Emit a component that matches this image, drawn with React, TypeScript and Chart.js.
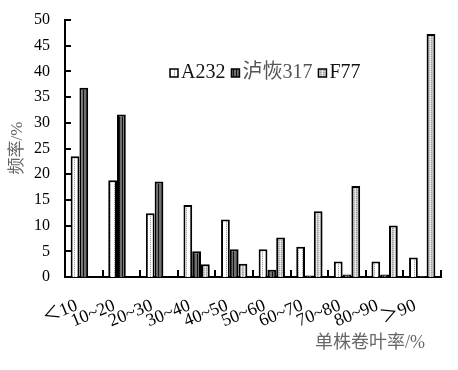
import React, { useEffect, useRef } from 'react';
import { Chart, registerables } from 'chart.js';

Chart.register(...registerables);

const categories = ['＜10', '10~20', '20~30', '30~40', '40~50', '50~60', '60~70', '70~80', '80~90', '＞90'];
const seriesNames = ['A232', '泸恢317', 'F77'];
const a232 = [23.5, 18.8, 12.4, 14.0, 11.2, 5.4, 5.9, 3.0, 3.0, 3.8];
const luhui317 = [36.8, 31.6, 18.6, 5.0, 5.4, 1.4, 0.3, 0.5, 0.5, 0.2];
const f77 = [0, 0, 0, 2.5, 2.6, 7.7, 12.8, 17.7, 10.0, 47.3];
const yMin = 0;
const yMax = 50;
const yStep = 5;
const xTitle = '单株卷叶率/%';
const yTitle = '频率/%';

const FONT = "'Liberation Serif', 'Noto Sans CJK SC', serif";

function makePattern(cols: string[][]): CanvasPattern | string {
  const h = cols[0].length;
  const w = cols.length;
  const c = document.createElement('canvas');
  c.width = w;
  c.height = h;
  const ctx = c.getContext('2d')!;
  for (let x = 0; x < w; x++) {
    for (let y = 0; y < h; y++) {
      ctx.fillStyle = cols[x][y];
      ctx.fillRect(x, y, 1, 1);
    }
  }
  const p = ctx.createPattern(c, 'repeat');
  return p || cols[0][0];
}

export default function App() {
  const ref = useRef<HTMLCanvasElement>(null);

  useEffect(() => {
    const canvas = ref.current!;
    const patA = makePattern([
      ['#ffffff', '#ffffff'],
      ['#ffffff', '#ffffff'],
      ['#a8a8a8', '#e4e4e4'],
      ['#ffffff', '#ffffff'],
    ]);
    const patL = makePattern([
      ['#707070'],
      ['#707070'],
      ['#101010'],
    ]);
    const patF = makePattern([
      ['#b4b4b4', '#d8d8d8'],
      ['#e6e6e6', '#e6e6e6'],
      ['#a0a0a0', '#c4c4c4'],
    ]);
    const pats = [patA, patL, patF];
    const values = [a232, luhui317, f77];

    const decor = {
      id: 'decor',
      afterDatasetsDraw(chart: any) {
        const ctx = chart.ctx;
        const x = chart.scales.x;
        const y = chart.scales.y;
        const area = chart.chartArea;
        ctx.save();
        ctx.strokeStyle = '#000';
        ctx.lineWidth = 2;
        for (let v = yMin + yStep; v <= yMax; v += yStep) {
          const py = Math.round(y.getPixelForValue(v));
          ctx.beginPath();
          ctx.moveTo(area.left, py);
          ctx.lineTo(area.left + 6, py);
          ctx.stroke();
        }
        const half = (x.getPixelForValue(1) - x.getPixelForValue(0)) / 2;
        for (let i = 0; i < categories.length; i++) {
          const px = Math.round(x.getPixelForValue(i) + half);
          ctx.beginPath();
          ctx.moveTo(px, area.bottom);
          ctx.lineTo(px, area.bottom - 7);
          ctx.stroke();
        }
        ctx.restore();
      },
      afterDraw(chart: any) {
        const ctx = chart.ctx;
        ctx.save();
        ctx.font = `20px ${FONT}`;
        ctx.textBaseline = 'middle';
        ctx.textAlign = 'left';
        let lx = 170;
        const ly = 73;
        const colors = ['#111', '#555', '#111'];
        seriesNames.forEach((name, i) => {
          ctx.fillStyle = pats[i] as any;
          ctx.fillRect(lx, ly - 4, 8, 8);
          ctx.strokeStyle = '#000';
          ctx.lineWidth = 1.5;
          ctx.strokeRect(lx, ly - 4, 8, 8);
          ctx.fillStyle = colors[i];
          ctx.fillText(name, lx + 11, ly);
          lx += 11 + ctx.measureText(name).width + 6;
        });
        ctx.font = `18px ${FONT}`;
        ctx.fillStyle = '#666';
        ctx.textAlign = 'right';
        ctx.textBaseline = 'middle';
        ctx.fillText(xTitle, 425, 343);
        ctx.translate(18, 148);
        ctx.rotate(-Math.PI / 2);
        ctx.textAlign = 'center';
        ctx.font = `17px ${FONT}`;
        ctx.fillText(yTitle, 0, 0);
        ctx.restore();
      },
    };

    const chart = new Chart(canvas, {
      type: 'bar',
      data: {
        labels: categories,
        datasets: seriesNames.map((name, i) => ({
          label: name,
          data: values[i],
          backgroundColor: pats[i] as any,
          borderColor: '#000',
          borderWidth: 2,
          borderSkipped: 'start',
          categoryPercentage: 0.7,
          barPercentage: 1,
        })),
      },
      options: {
        animation: false,
        responsive: false,
        maintainAspectRatio: false,
        layout: { padding: { top: 20, right: 17, left: 0, bottom: 0 } },
        plugins: {
          legend: { display: false },
          tooltip: { enabled: false },
        },
        scales: {
          x: {
            grid: { display: false, drawTicks: false },
            border: { display: true, color: '#000', width: 2 },
            ticks: {
              color: '#000',
              font: { family: FONT, size: 18 },
              maxRotation: 22,
              minRotation: 22,
              padding: 18,
              labelOffset: -7,
              autoSkip: false,
            },
            afterFit: (s: any) => {
              s.height = 93;
              s.paddingLeft = 0;
              s.paddingRight = 0;
            },
          },
          y: {
            min: yMin,
            max: yMax,
            grid: { display: false, drawTicks: false },
            border: { display: true, color: '#000', width: 2 },
            ticks: {
              stepSize: yStep,
              color: '#000',
              font: { family: FONT, size: 16 },
              padding: 15,
            },
            afterFit: (s: any) => {
              s.width = 65;
              s.paddingTop = 0;
              s.paddingBottom = 0;
            },
          },
        },
      },
      plugins: [decor],
    });
    return () => chart.destroy();
  }, []);

  return (
    <div style={{ position: 'fixed', left: 0, top: 0, width: 458, height: 370, background: '#fff' }}>
      <canvas ref={ref} width={458} height={370} style={{ width: 458, height: 370 }} />
    </div>
  );
}
